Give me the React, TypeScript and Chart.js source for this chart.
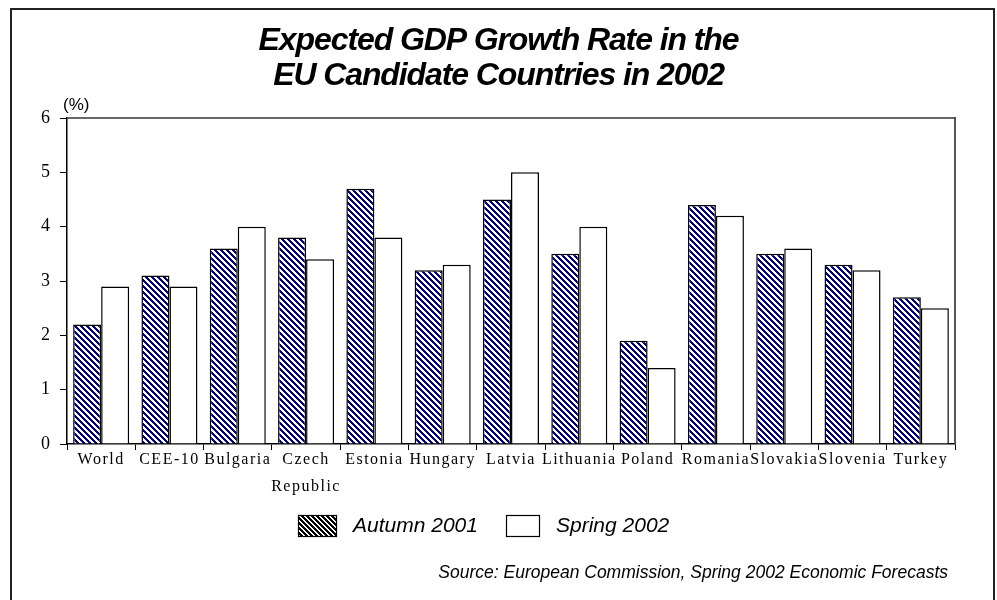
import React, { useEffect, useRef } from 'react';
import { Chart, registerables } from 'chart.js';

Chart.register(...registerables);

const categories: (string | string[])[] = [
  'World', 'CEE-10', 'Bulgaria', ['Czech', 'Republic'], 'Estonia', 'Hungary', 'Latvia',
  'Lithuania', 'Poland', 'Romania', 'Slovakia', 'Slovenia', 'Turkey',
];
const autumn2001 = [2.2, 3.1, 3.6, 3.8, 4.7, 3.2, 4.5, 3.5, 1.9, 4.4, 3.5, 3.3, 2.7];
const spring2002 = [2.9, 2.9, 4.0, 3.4, 3.8, 3.3, 5.0, 4.0, 1.4, 4.2, 3.6, 3.2, 2.5];
const seriesNames = ['Autumn 2001', 'Spring 2002'];
const yTicks = [0, 1, 2, 3, 4, 5, 6];
const titleLines = ['Expected GDP Growth Rate in the', 'EU Candidate Countries in 2002'];
const unitLabel = '(%)';
const sourceText = 'Source: European Commission, Spring 2002 Economic Forecasts';

const SERIF = "'Liberation Serif', 'Times New Roman', serif";
const SANS = "'Liberation Sans', Arial, Helvetica, sans-serif";

function makeHatch(ctx: CanvasRenderingContext2D, color: string, size: number, width: number) {
  const c = document.createElement('canvas');
  c.width = size;
  c.height = size;
  const g = c.getContext('2d')!;
  g.fillStyle = '#ffffff';
  g.fillRect(0, 0, size, size);
  g.fillStyle = color;
  for (let y = 0; y < size; y++) {
    for (let x = 0; x < size; x++) {
      if ((((x - y) % size) + size) % size < width) g.fillRect(x, y, 1, 1);
    }
  }
  return ctx.createPattern(c, 'repeat')!;
}

function withSpacing(chart: any, target: any, method: string, spacing: string) {
  if (!target || target['__ls_' + method]) return;
  const orig = target[method].bind(target);
  target[method] = (...args: any[]) => {
    const c: any = chart.ctx;
    c.save();
    c.letterSpacing = spacing;
    orig(...args);
    c.restore();
  };
  target['__ls_' + method] = true;
}

export default function App() {
  const ref = useRef<HTMLCanvasElement | null>(null);

  useEffect(() => {
    document.body.style.margin = '0';
    const canvas = ref.current!;
    const ctx = canvas.getContext('2d')!;
    const barHatch = makeHatch(ctx, '#000080', 6, 3);
    const legendHatch = makeHatch(ctx, '#000000', 5, 3);

    const decor = {
      id: 'decor',
      beforeDraw(chart: any) {
        withSpacing(chart, chart.scales.x, 'drawLabels', '1.5px');
        withSpacing(chart, chart.titleBlock, 'draw', '-1.1px');
      },
      afterDraw(chart: any) {
        const c = chart.ctx as CanvasRenderingContext2D;
        const a = chart.chartArea;
        c.save();
        // outer frame
        c.strokeStyle = '#222';
        c.lineWidth = 2;
        c.strokeRect(11, 9, 983, 640);
        // top border of plot
        c.strokeStyle = '#333';
        c.lineWidth = 1.5;
        c.beginPath();
        c.moveTo(a.left, a.top);
        c.lineTo(a.right, a.top);
        c.stroke();
        // unit label
        c.fillStyle = '#000';
        c.font = `17px ${SANS}`;
        c.textAlign = 'left';
        c.textBaseline = 'middle';
        c.fillText(unitLabel, a.left - 4, a.top - 13);
        // legend
        const items = [
          { x: 298, w: 39, fill: legendHatch, label: seriesNames[0] },
          { x: 506, w: 34, fill: '#ffffff', label: seriesNames[1] },
        ];
        c.font = `italic 21px ${SANS}`;
        for (const it of items) {
          c.fillStyle = it.fill as any;
          c.fillRect(it.x, 515, it.w, 22);
          c.strokeStyle = '#000';
          c.lineWidth = 1.2;
          c.strokeRect(it.x + 0.5, 515.5, it.w - 1, 21);
          c.fillStyle = '#000';
          c.fillText(it.label, it.x + it.w + 16, 526);
        }
        // source
        c.font = `italic 17.5px ${SANS}`;
        c.textAlign = 'right';
        c.fillText(sourceText, 948, 573);
        c.restore();
      },
    };

    const chart = new Chart(canvas, {
      type: 'bar',
      data: {
        labels: categories as any,
        datasets: [
          {
            label: seriesNames[0],
            data: autumn2001,
            backgroundColor: barHatch as any,
            borderColor: '#000',
            borderWidth: 1.5,
            categoryPercentage: 0.82,
            barPercentage: 1,
          },
          {
            label: seriesNames[1],
            data: spring2002,
            backgroundColor: '#ffffff',
            borderColor: '#000',
            borderWidth: 1.5,
            categoryPercentage: 0.82,
            barPercentage: 1,
          },
        ],
      },
      options: {
        responsive: false,
        animation: false,
        layout: { padding: 0 },
        plugins: {
          legend: { display: false },
          tooltip: { enabled: false },
          title: {
            display: true,
            text: titleLines,
            color: '#000',
            font: { family: SANS, size: 32, weight: 'bold', style: 'italic', lineHeight: '35px' },
            padding: { top: 24, bottom: 24 },
          },
        },
        scales: {
          x: {
            offset: true,
            grid: { offset: true, drawOnChartArea: false, tickLength: 6, color: '#000', lineWidth: 1 },
            border: { color: '#000', width: 1.5 },
            ticks: {
              color: '#000',
              font: { family: SERIF, size: 16, lineHeight: '27px' },
              padding: -4,
              maxRotation: 0,
              minRotation: 0,
              autoSkip: false,
            },
            afterFit(s: any) {
              s.height = 156;
            },
          },
          y: {
            min: 0,
            max: 6,
            afterBuildTicks(s: any) {
              s.ticks = yTicks.map((v) => ({ value: v }));
            },
            grid: { drawOnChartArea: false, tickLength: 7, color: '#000', lineWidth: 1 },
            border: { color: '#000', width: 1.5 },
            ticks: { color: '#000', font: { family: SERIF, size: 18 }, padding: 10 },
            afterFit(s: any) {
              s.width = 67;
            },
          },
          y2: {
            position: 'right',
            min: 0,
            max: 6,
            grid: { display: false },
            ticks: { display: false },
            border: { display: true, color: '#555', width: 2 },
            afterFit(s: any) {
              s.width = 42;
            },
          },
        },
      } as any,
      plugins: [decor as any],
    });
    return () => chart.destroy();
  }, []);

  return (
    <div style={{ width: 997, height: 600 }}>
      <canvas ref={ref} width={997} height={600} style={{ display: 'block' }} />
    </div>
  );
}
